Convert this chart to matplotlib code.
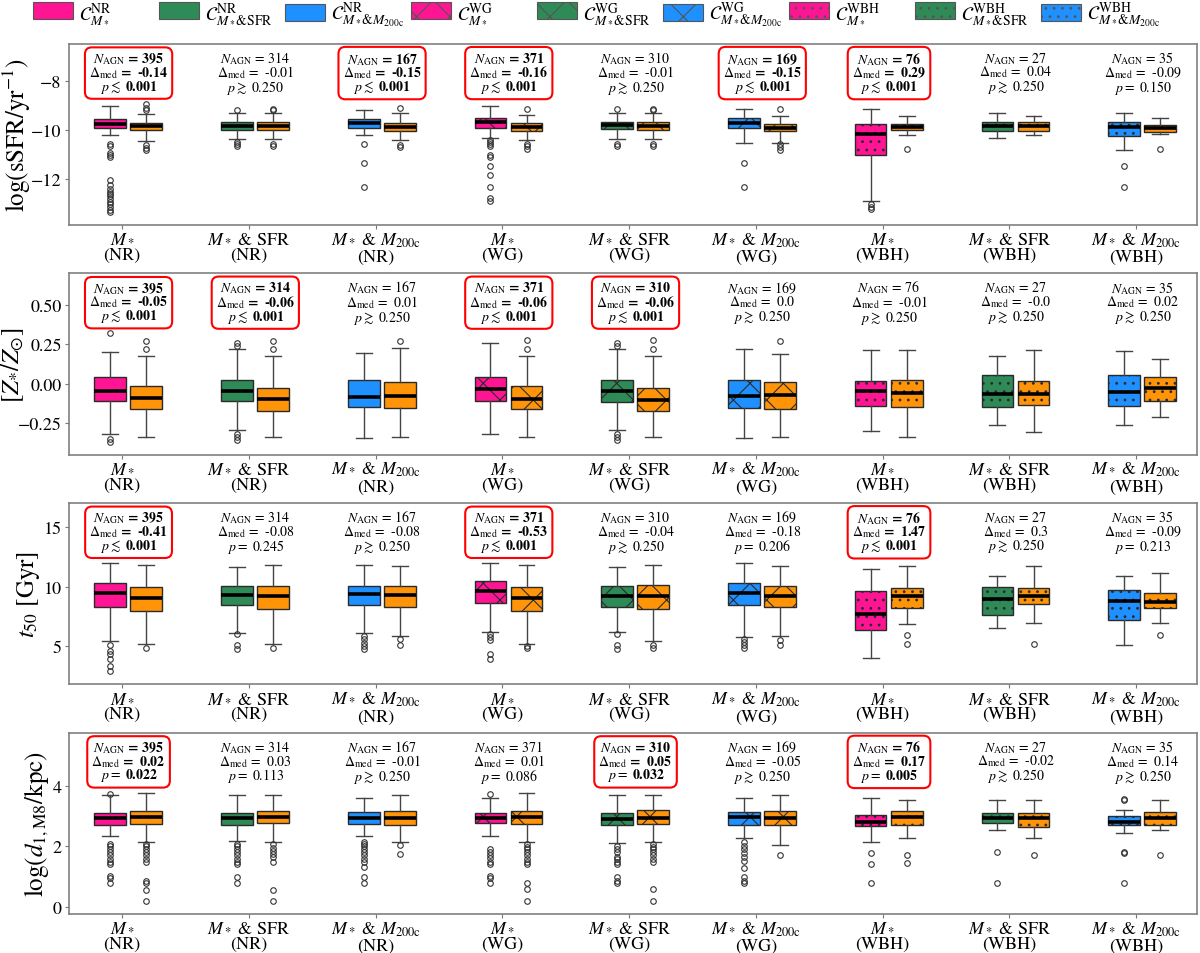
import numpy as np
import matplotlib
matplotlib.use("Agg")
import matplotlib.pyplot as plt
import matplotlib.transforms as mtransforms
from matplotlib.patches import Patch

plt.rcParams["font.family"] = ["STIXGeneral", "DejaVu Serif"]
plt.rcParams["mathtext.fontset"] = "stix"
plt.rcParams["hatch.linewidth"] = 0.8

# ---- categories -------------------------------------------------------------
groups = ["NR", "NR", "NR", "WG", "WG", "WG", "WBH", "WBH", "WBH"]
matches = [r"$M_*$", r"$M_*$ & SFR", r"$M_*$ & $M_{\rm 200c}$"] * 3
n_agn = [395, 314, 167, 371, 310, 169, 76, 27, 35]

legend_labels = [
    r"$\mathcal{C}^{\rm NR}_{M_*}$",
    r"$\mathcal{C}^{\rm NR}_{M_*&{\rm SFR}}$",
    r"$\mathcal{C}^{\rm NR}_{M_*&M_{\rm 200c}}$",
    r"$\mathcal{C}^{\rm WG}_{M_*}$",
    r"$\mathcal{C}^{\rm WG}_{M_*&{\rm SFR}}$",
    r"$\mathcal{C}^{\rm WG}_{M_*&M_{\rm 200c}}$",
    r"$\mathcal{C}^{\rm WBH}_{M_*}$",
    r"$\mathcal{C}^{\rm WBH}_{M_*&{\rm SFR}}$",
    r"$\mathcal{C}^{\rm WBH}_{M_*&M_{\rm 200c}}$",
]

# ---- box statistics: order is [control, AGN] for each of the 9 groups ------
# panel 1: log sSFR
ssfr_lo = [-10.2, -10.45, -10.37, -10.37, -10.2, -10.4, -10.31, -10.41, -10.34, -10.37,
           -10.52, -10.52, -12.86, -10.2, -10.3, -10.2, -10.82, -10.16]
ssfr_q1 = [-9.93, -10.0, -10.0, -10.0, -9.93, -10.02, -9.9, -10.03, -9.96, -10.0,
           -9.93, -10.04, -11.02, -10.0, -10.02, -10.04, -10.23, -10.07]
ssfr_med = [-9.74, -9.84, -9.82, -9.82, -9.71, -9.86, -9.69, -9.86, -9.8, -9.82,
            -9.7, -9.9, -10.16, -9.88, -9.85, -9.85, -9.86, -9.93]
ssfr_q3 = [-9.53, -9.70, -9.66, -9.66, -9.55, -9.72, -9.52, -9.73, -9.66, -9.66,
           -9.52, -9.77, -9.77, -9.74, -9.66, -9.66, -9.66, -9.8]
ssfr_hi = [-9.04, -9.36, -9.3, -9.32, -9.18, -9.3, -9.04, -9.39, -9.32, -9.32,
           -9.16, -9.41, -9.14, -9.41, -9.31, -9.41, -9.31, -9.49]
ssfr_fliers = [
    [-10.55, -10.64, -10.92, -11.02, -11.09, -12.04, -12.24, -12.38, -12.49, -12.58,
     -12.68, -12.79, -12.9, -13.0, -13.12, -13.22, -13.33],
    [-8.94, -9.11, -9.18, -10.61, -10.72, -10.82],
    [-9.2, -10.5, -10.58, -10.64],
    [-9.14, -9.2, -10.55, -10.64],
    [-10.58, -11.33, -12.29],
    [-9.12, -10.6, -10.7],
    [-10.41, -10.5, -10.58, -10.64, -11.02, -11.09, -11.47, -11.8, -12.31, -12.76, -12.88],
    [-9.14, -10.55, -10.66, -10.76],
    [-9.16, -10.58, -10.65],
    [-9.14, -9.2, -10.55, -10.64],
    [-11.33, -12.31],
    [-9.16, -10.58, -10.7, -10.82],
    [-12.99, -13.1, -13.2],
    [-10.75],
    [],
    [],
    [-11.47, -12.31],
    [-10.75],
]

# panel 2: [Z*/Zsun]
z_lo = [-0.32, -0.336, -0.294, -0.336, -0.347, -0.336, -0.32, -0.336, -0.294, -0.336,
        -0.347, -0.336, -0.301, -0.336, -0.262, -0.309, -0.262, -0.214]
z_q1 = [-0.108, -0.163, -0.11, -0.171, -0.146, -0.157, -0.108, -0.163, -0.114, -0.174,
        -0.152, -0.161, -0.144, -0.15, -0.15, -0.136, -0.144, -0.11]
z_med = [-0.043, -0.093, -0.045, -0.098, -0.083, -0.079, -0.036, -0.098, -0.043, -0.102,
         -0.076, -0.072, -0.047, -0.06, -0.064, -0.064, -0.053, -0.03]
z_q3 = [0.04, -0.015, 0.023, -0.025, 0.023, 0.013, 0.044, -0.015, 0.027, -0.025,
        0.023, 0.013, 0.019, 0.023, 0.055, 0.019, 0.055, 0.044]
z_hi = [0.20, 0.178, 0.218, 0.178, 0.197, 0.23, 0.256, 0.178, 0.218, 0.178,
        0.218, 0.186, 0.213, 0.213, 0.175, 0.213, 0.209, 0.156]
z_fliers = [
    [0.319, -0.353, -0.368], [0.27, 0.218],
    [0.256, 0.241, -0.32, -0.336, -0.357], [0.27, 0.218],
    [], [0.273],
    [], [0.277, 0.218],
    [0.256, 0.241, -0.32, -0.336, -0.357], [0.277, 0.218],
    [], [0.273],
    [], [],
    [], [],
    [], [],
]

# panel 3: t50 [Gyr]
t_lo = [5.44, 5.16, 6.15, 5.16, 6.15, 5.86, 6.2, 5.16, 6.2, 5.44,
        5.81, 5.86, 4.0, 6.9, 6.57, 6.93, 5.1, 6.93]
t_q1 = [8.34, 7.97, 8.45, 8.12, 8.48, 8.31, 8.68, 7.97, 8.34, 8.12,
        8.45, 8.31, 6.37, 8.26, 7.64, 8.54, 7.19, 8.23]
t_med = [9.47, 9.05, 9.3, 9.19, 9.38, 9.3, 9.61, 9.08, 9.24, 9.21,
         9.44, 9.24, 7.69, 9.19, 8.96, 9.24, 8.82, 8.73]
t_q3 = [10.31, 9.95, 10.03, 10.03, 10.08, 10.03, 10.51, 9.95, 10.03, 10.14,
        10.31, 10.03, 9.61, 9.86, 9.95, 9.86, 9.72, 9.47]
t_hi = [11.98, 11.86, 11.64, 11.86, 11.83, 11.78, 11.98, 11.86, 11.69, 11.86,
        11.98, 11.78, 11.5, 11.78, 10.93, 11.78, 10.93, 11.13]
t_fliers = [
    [5.1, 4.6, 4.32, 3.95, 3.33, 2.9], [4.88],
    [6.0, 5.1, 4.74], [4.88],
    [5.86, 5.58, 5.3, 5.02, 4.8], [5.58, 5.1],
    [6.0, 5.78, 5.53, 4.32, 3.9], [5.02, 4.83],
    [6.0, 5.1, 4.74], [5.1, 4.83],
    [5.58, 5.36, 5.1, 4.88], [5.53, 5.1],
    [], [5.92, 5.16],
    [], [5.16],
    [], [5.92],
]

# panel 4: log d_1,M8
d_lo = [2.35, 2.13, 2.18, 2.16, 2.35, 2.13, 2.35, 2.15, 2.1, 2.15,
        2.29, 2.05, 2.16, 2.29, 2.53, 2.29, 2.44, 2.53]
d_q1 = [2.71, 2.73, 2.71, 2.77, 2.74, 2.71, 2.76, 2.73, 2.71, 2.73,
        2.71, 2.71, 2.66, 2.71, 2.76, 2.65, 2.7, 2.7]
d_med = [2.93, 2.97, 2.93, 2.97, 2.94, 2.95, 2.95, 2.98, 2.9, 2.95,
         2.98, 2.93, 2.81, 2.98, 2.95, 2.93, 2.82, 2.95]
d_q3 = [3.09, 3.17, 3.12, 3.17, 3.14, 3.17, 3.12, 3.17, 3.12, 3.2,
        3.14, 3.17, 3.04, 3.17, 3.12, 3.12, 3.0, 3.15]
d_hi = [3.69, 3.76, 3.7, 3.7, 3.59, 3.7, 3.59, 3.78, 3.7, 3.7,
        3.59, 3.7, 3.59, 3.53, 3.55, 3.53, 3.21, 3.53]
d_fliers = [
    [3.75, 2.07, 2.0, 1.91, 1.82, 1.71, 1.58, 1.49, 1.41, 1.02, 0.95, 0.78],
    [2.07, 2.0, 1.91, 1.82, 1.71, 1.58, 1.47, 0.86, 0.78, 0.56, 0.2],
    [2.07, 2.0, 1.91, 1.82, 1.71, 1.58, 1.49, 1.41, 0.97, 0.78],
    [2.07, 1.96, 1.85, 1.74, 1.63, 1.49, 0.56, 0.2],
    [2.15, 2.07, 2.0, 1.91, 1.82, 1.71, 1.58, 1.49, 1.3, 0.97, 0.78],
    [2.04, 1.74],
    [3.75, 1.91, 1.82, 1.71, 1.61, 1.49, 1.41, 1.02, 0.95, 0.78],
    [2.07, 1.99, 1.91, 1.82, 1.71, 1.58, 1.49, 1.41, 0.78, 0.59, 0.2],
    [2.01, 1.91, 1.80, 1.65, 1.58, 1.49, 1.41, 0.97, 0.86, 0.77],
    [2.07, 1.99, 1.91, 1.82, 1.71, 1.58, 1.49, 0.59, 0.18],
    [2.13, 2.01, 1.91, 1.78, 1.65, 1.52, 1.27, 0.97, 0.86, 0.77],
    [1.71],
    [1.78, 1.43, 0.78], [1.71, 1.45],
    [1.8, 0.78], [1.71],
    [3.58, 3.53, 1.8, 1.77, 0.78], [1.71],
]

# ---- annotations ------------------------------------------------------------
ssfr_delta = ["-0.14", "-0.01", "-0.15", "-0.16", "-0.01", "-0.15", "0.29", "0.04", "-0.09"]
ssfr_p = ["<0.001", ">0.250", "<0.001", "<0.001", ">0.250", "<0.001", "<0.001", ">0.250", "0.150"]
ssfr_sig = [1, 0, 1, 1, 0, 1, 1, 0, 0]

z_delta = ["-0.05", "-0.06", "0.01", "-0.06", "-0.06", "0.0", "-0.01", "-0.0", "0.02"]
z_p = ["<0.001", "<0.001", ">0.250", "<0.001", "<0.001", ">0.250", ">0.250", ">0.250", ">0.250"]
z_sig = [1, 1, 0, 1, 1, 0, 0, 0, 0]

t_delta = ["-0.41", "-0.08", "-0.08", "-0.53", "-0.04", "-0.18", "1.47", "0.3", "-0.09"]
t_p = ["<0.001", "0.245", ">0.250", "<0.001", ">0.250", "0.206", "<0.001", ">0.250", "0.213"]
t_sig = [1, 0, 0, 1, 0, 0, 1, 0, 0]

d_delta = ["0.02", "0.03", "-0.01", "0.01", "0.05", "-0.05", "0.17", "-0.02", "0.14"]
d_p = ["0.022", "0.113", ">0.250", "0.086", "0.032", ">0.250", "0.005", ">0.250", ">0.250"]
d_sig = [1, 0, 0, 0, 1, 0, 1, 0, 0]

panels = [
    (ssfr_lo, ssfr_q1, ssfr_med, ssfr_q3, ssfr_hi, ssfr_fliers, ssfr_delta, ssfr_p, ssfr_sig,
     r"$\log({\rm sSFR/yr^{-1}})$", (-13.85, -6.5), [-12, -10, -8], -0.032),
    (z_lo, z_q1, z_med, z_q3, z_hi, z_fliers, z_delta, z_p, z_sig,
     r"$[Z_{*}/Z_{\odot}]$", (-0.45, 0.70), [-0.25, 0.0, 0.25, 0.5], -0.038),
    (t_lo, t_q1, t_med, t_q3, t_hi, t_fliers, t_delta, t_p, t_sig,
     r"$t_{50}$ [Gyr]", (1.8, 17.05), [5, 10, 15], -0.024),
    (d_lo, d_q1, d_med, d_q3, d_hi, d_fliers, d_delta, d_p, d_sig,
     r"$\log(d_{1,{\rm M8}}/{\rm kpc})$", (-0.24, 5.77), [0, 2, 4], -0.016),
]

colors = ["#FF1493", "#2E8B57", "#1E90FF"]
agn_color = "#FF9408"
hatches = ["", "x", ".."]
edge = "#2a2a2a"

fig, axes = plt.subplots(4, 1, figsize=(12, 9.54), dpi=100)
fig.subplots_adjust(left=0.0575, right=0.9975, top=0.953, bottom=0.041, hspace=0.267)

xt = np.arange(9)
for ax, (lo, q1, med, q3, hi, fl, delta, pv, sig, ylab, ylim, yt, labx) in zip(axes, panels):
    stats, pos, fcs, hts = [], [], [], []
    for k in range(18):
        g = k // 2
        stats.append(dict(whislo=lo[k], q1=q1[k], med=med[k], q3=q3[k],
                          whishi=hi[k], fliers=fl[k]))
        pos.append(g - 0.095 if k % 2 == 0 else g + 0.19)
        fcs.append(colors[g % 3] if k % 2 == 0 else agn_color)
        hts.append(hatches[g // 3])
    bp = ax.bxp(stats, positions=pos, widths=0.25, patch_artist=True, manage_ticks=False,
                boxprops=dict(edgecolor=edge, linewidth=1.0),
                whiskerprops=dict(color="#444444", linewidth=1.0),
                capprops=dict(color="#444444", linewidth=1.0),
                medianprops=dict(color="black", linewidth=2.6),
                flierprops=dict(marker="o", markersize=4, markerfacecolor="none",
                                markeredgecolor="#333333", markeredgewidth=0.8))
    for box, fc, h in zip(bp["boxes"], fcs, hts):
        box.set_facecolor(fc)
        box.set_hatch(h)

    trans = mtransforms.blended_transform_factory(ax.transData, ax.transAxes)
    for g in range(9):
        p = pv[g]
        if p.startswith("<"):
            pline = r"$p\lesssim$ " + p[1:]
        elif p.startswith(">"):
            pline = r"$p\gtrsim$ " + p[1:]
        else:
            pline = r"$p=$ " + p
        txt = (r"$N_{\rm AGN}$ = " + str(n_agn[g]) + "\n"
               + r"$\Delta_{\rm med}$ =  " + delta[g] + "\n" + pline)
        kw = dict(transform=trans, ha="center", va="center", fontsize=10, linespacing=0.82)
        if sig[g]:
            ax.text(g + 0.05, 0.842, txt, fontweight="bold",
                    bbox=dict(boxstyle="round,pad=0.3,rounding_size=0.5",
                              fc="white", ec="red", lw=1.5), **kw)
        else:
            ax.text(g + 0.05, 0.842, txt, **kw)

    ax.set_xlim(-0.42, 8.48)
    ax.set_ylim(*ylim)
    ax.set_yticks(yt)
    ax.set_xticks(xt)
    ax.set_xticklabels([m + "\n(" + grp + ")" for m, grp in zip(matches, groups)],
                       fontsize=13, linespacing=1.05)
    ax.tick_params(axis="y", labelsize=13, color="#777777", length=2.8, pad=2.5)
    ax.tick_params(axis="x", color="#777777", length=2.8, pad=1.0)
    ax.set_ylabel(ylab, fontsize=18)
    ax.yaxis.set_label_coords(labx, 0.5)
    for s in ax.spines.values():
        s.set_color("#808080")
        s.set_linewidth(1.2)

# legend: one entry per column, evenly spaced along the top
for k, lab in enumerate(legend_labels):
    h = Patch(facecolor=colors[k % 3], edgecolor="#555555", hatch=hatches[k // 3], lw=0.8)
    fig.legend([h], [lab], loc="upper left", bbox_to_anchor=((32 + 126 * k) / 1200, 1.0),
               frameon=False, fontsize=14, handlelength=2.06, handleheight=0.98,
               handletextpad=0.3, borderpad=0.05, borderaxespad=0)

fig.savefig("out.png", dpi=100)
